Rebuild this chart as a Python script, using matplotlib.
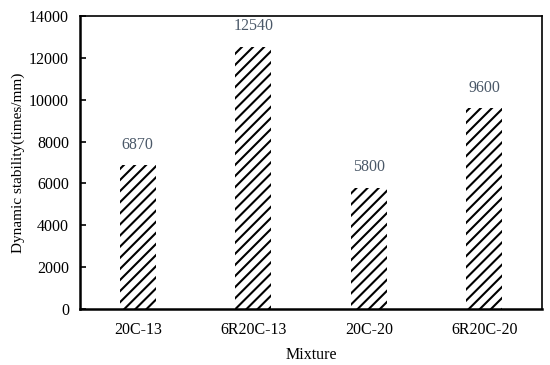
import matplotlib
matplotlib.use("Agg")
import matplotlib.pyplot as plt

categories = ["20C-13", "6R20C-13", "20C-20", "6R20C-20"]
values = [6870, 12540, 5800, 9600]
yticks = [0, 2000, 4000, 6000, 8000, 10000, 12000, 14000]

plt.rcParams['font.family'] = ['Liberation Serif', 'DejaVu Serif']
plt.rcParams['hatch.linewidth'] = 1.5

fig = plt.figure(figsize=(5.5, 3.65), dpi=100)
ax = fig.add_axes([80/550, 1-309/365, 462/550, 293/365])

x = range(len(categories))
bars = ax.bar(x, values, width=0.31, color='white', edgecolor='black',
              linewidth=0, hatch='///')

for xi, v in zip(x, values):
    ax.annotate(f"{v}", (xi, v), xytext=(0, 9), textcoords='offset points',
                ha='center', va='bottom', fontsize=11.5, color='#4a5868')

ax.set_xlim(-0.5, 3.5)
ax.set_ylim(0, 14000)
ax.set_yticks(yticks)
ax.set_xticks(list(x))
ax.set_xticklabels(categories)
ax.tick_params(axis='y', direction='in', length=4, width=1.2, labelsize=11.5, pad=8)
ax.tick_params(axis='x', length=0, labelsize=11.5, pad=9)
for s in ['left', 'bottom']:
    ax.spines[s].set_linewidth(1.8)
for s in ['top', 'right']:
    ax.spines[s].set_linewidth(1.2)

ax.set_xlabel("Mixture", fontsize=11.5, labelpad=7)
ax.set_ylabel("Dynamic stability(times/mm)", fontsize=11, labelpad=3)

fig.savefig("out.png", dpi=100)
